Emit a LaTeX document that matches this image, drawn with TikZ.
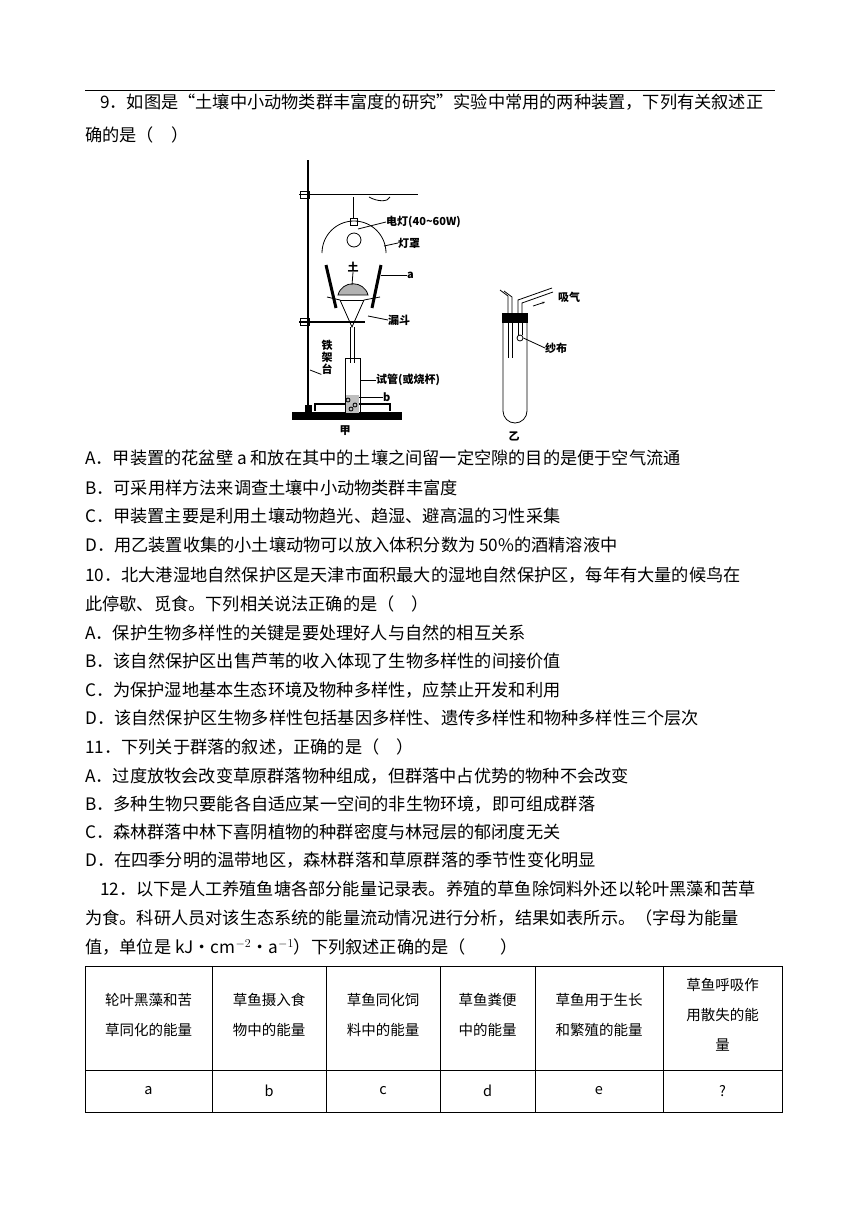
\documentclass[tikz,border=0pt]{standalone}
\usepackage{fontspec}
\setmainfont{Noto Sans CJK SC}
\usetikzlibrary{arrows.meta}
\begin{document}
\begin{tikzpicture}[x=1pt,y=-1pt,
  txt/.style={anchor=west,inner sep=0pt,font=\fontsize{17.2}{19}\selectfont},
  lbl/.style={inner sep=0pt,font=\fontsize{11}{12}\selectfont\bfseries},
  cell/.style={inner sep=0pt,align=center,font=\fontsize{14.5}{30}\selectfont},
  app/.style={line width=1.3pt},
  thin/.style={line width=0.8pt}]
\useasboundingbox (0,0) rectangle (868,1227);
\draw[line width=0.6pt] (85,90) -- (775,90);
\node[txt] (l1) at (100,102) {9．如图是“土壤中小动物类群丰富度的研究”实验中常用的两种装置，下列有关叙述正};
\node[txt] (l2) at (85,135) {确的是（\quad）};
\node[txt] (l3) at (85,458) {A．甲装置的花盆壁 a 和放在其中的土壤之间留一定空隙的目的是便于空气流通};
\node[txt] (l4) at (85,488) {B．可采用样方法来调查土壤中小动物类群丰富度};
\node[txt] (l5) at (85,516) {C．甲装置主要是利用土壤动物趋光、趋湿、避高温的习性采集};
\node[txt] (l6) at (85,545) {D．用乙装置收集的小土壤动物可以放入体积分数为 50\%的酒精溶液中};
\node[txt] (l7) at (85,575) {10．北大港湿地自然保护区是天津市面积最大的湿地自然保护区，每年有大量的候鸟在};
\node[txt] (l8) at (85,604) {此停歇、觅食。下列相关说法正确的是（\quad）};
\node[txt] (l9) at (85,633) {A．保护生物多样性的关键是要处理好人与自然的相互关系};
\node[txt] (l10) at (85,661) {B．该自然保护区出售芦苇的收入体现了生物多样性的间接价值};
\node[txt] (l11) at (85,690) {C．为保护湿地基本生态环境及物种多样性，应禁止开发和利用};
\node[txt] (l12) at (85,718) {D．该自然保护区生物多样性包括基因多样性、遗传多样性和物种多样性三个层次};
\node[txt] (l13) at (85,747) {11．下列关于群落的叙述，正确的是（\quad）};
\node[txt] (l14) at (85,776) {A．过度放牧会改变草原群落物种组成，但群落中占优势的物种不会改变};
\node[txt] (l15) at (85,804) {B．多种生物只要能各自适应某一空间的非生物环境，即可组成群落};
\node[txt] (l16) at (85,832) {C．森林群落中林下喜阴植物的种群密度与林冠层的郁闭度无关};
\node[txt] (l17) at (85,860) {D．在四季分明的温带地区，森林群落和草原群落的季节性变化明显};
\node[txt] (l18) at (100,889) {12．以下是人工养殖鱼塘各部分能量记录表。养殖的草鱼除饲料外还以轮叶黑藻和苦草};
\node[txt] (l19) at (85,918) {为食。科研人员对该生态系统的能量流动情况进行分析，结果如表所示。（字母为能量};
\node[txt] (l20) at (85,947) {值，单位是 kJ·cm$^{-2}$·a$^{-1}$）下列叙述正确的是（\qquad）};
% table
\draw[line width=0.7pt] (85,966) rectangle (782,1112);
\draw[line width=0.7pt] (85,1070) -- (782,1070);
\foreach \x in {212,326,440,535,663} \draw[line width=0.7pt] (\x,966) -- (\x,1112);
\node[cell] (c1) at (148.5,1015) {轮叶黑藻和苦\\草同化的能量};
\node[cell] (c2) at (269,1015) {草鱼摄入食\\物中的能量};
\node[cell] (c3) at (383,1015) {草鱼同化饲\\料中的能量};
\node[cell] (c4) at (487.5,1015) {草鱼粪便\\中的能量};
\node[cell] (c5) at (599,1015) {草鱼用于生长\\和繁殖的能量};
\node[cell] (c6) at (722.5,1015) {草鱼呼吸作\\用散失的能\\量};
\node[cell] (d1) at (148.5,1091) {a};
\node[cell] (d2) at (269,1091) {b};
\node[cell] (d3) at (383,1091) {c};
\node[cell] (d4) at (487.5,1091) {d};
\node[cell] (d5) at (599,1091) {e};
\node[cell] (d6) at (722.5,1091) {?};
% apparatus jia
\draw[app] (308,160) -- (308,410);
\fill (292,412) rectangle (402,420);
\draw[app] (315,411) -- (315,404) -- (390,404) -- (390,411);
\fill (305,405) rectangle (312,412);
\draw[app] (299,194.5) -- (418,194.5);
\draw[thin] (300,191) rectangle (309,198);
\draw[thin] (369,197) .. controls (378,202) and (388,202) .. (390,197);
\draw[thin] (353,197) -- (353,218);
\draw[thin] (350,218) rectangle (357,225);
\node[draw,circle,thin,minimum size=14pt,inner sep=0pt] (bulb) at (354,240) {};
\draw[thin] (322,253) arc (180:360:32);
% funnel
\draw[thin] (327,297) -- (340,300) -- (352,327) -- (364,300) -- (380,297);
\draw[thin] (340,300) -- (364,300);
\draw[thin] (350,327) -- (350,363);
\draw[thin] (354,327) -- (354,363);
% flower pot a
\draw[line width=3pt] (326,265) -- (336,308);
\draw[line width=3pt] (381,265) -- (372,308);
% soil mound
\fill[gray!60] (338,295) .. controls (342,280) and (364,280) .. (368,295) -- cycle;
\draw[thin] (338,295) .. controls (342,280) and (364,280) .. (368,295) -- cycle;
% lower clamp
\draw[app] (299,322) -- (365,322);
\draw[thin] (300,318.5) rectangle (309,325.5);
% test tube
\draw[thin] (345,358) -- (345,414) -- (360,414) -- (360,358) -- cycle;
\fill[gray!50] (346,395) rectangle (359,413);
\draw[thin] (348,400) circle (2) (355,405) circle (2) (351,409) circle (2);
% labels jia
\node[lbl,anchor=west] (n1) at (386,222) {电灯(40\textasciitilde 60W)};
\draw[thin] (358,229) -- (n1.west);
\node[lbl,anchor=west] (n2) at (398,243) {灯罩};
\draw[thin] (384,246) -- (n2.west);
\node[lbl] (n3) at (353,267) {土};
\draw[thin] (n3.south) -- (352,285);
\node[lbl,anchor=west] (n4) at (407,275) {a};
\draw[thin] (381,275) -- (n4.west);
\node[lbl,anchor=west] (n5) at (388,320) {漏斗};
\draw[thin] (368,316) -- (n5.west);
\node[lbl,align=center] (n6) at (327,357) {铁\\架\\台};
\draw[thin] (n6.south west) -- (310,370);
\node[lbl,anchor=west] (n7) at (376,380) {试管(或烧杯)};
\draw[thin] (361,380) -- (n7.west);
\node[lbl,anchor=west] (n8) at (383,397) {b};
\draw[thin] (359,397) -- (n8.west);
\node[lbl] (n9) at (345,431) {甲};
% apparatus yi
\draw[thin] (503,323) -- (503,411) arc (180:0:12) -- (527,323);
\fill (502,313) rectangle (528,323);
\draw[thin] (508,313) -- (508,296) -- (500,290);
\draw[thin] (512,313) -- (512,297) -- (504,291);
\draw[thin] (508,323) -- (508,358) (512,323) -- (512,358);
\draw[thin] (518,313) -- (518,300) -- (552,288);
\draw[thin] (522,313) -- (522,303) -- (553,292);
\draw[thin] (518,323) -- (518,335) (522,323) -- (522,335);
\node[draw,circle,thin,minimum size=6pt,inner sep=0pt] (gz) at (520,338) {};
\draw[-{Stealth[length=3pt]},thin] (533,306) -- (545,302);
\node[lbl,anchor=west] (y1) at (558,297) {吸气};
\node[lbl,anchor=west] (y2) at (545,348) {纱布};
\draw[thin] (gz.east) -- (y2.west);
\node[lbl] (y3) at (514,436) {乙};
\end{tikzpicture}
\end{document}
